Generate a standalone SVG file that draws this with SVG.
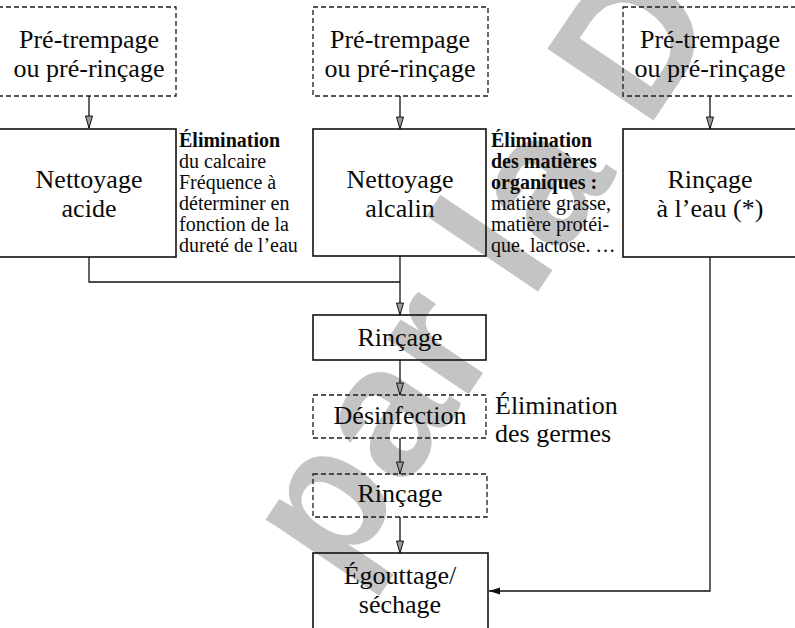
<svg xmlns="http://www.w3.org/2000/svg" width="795" height="628" viewBox="0 0 795 628">
  <defs>
    <style>
      .wm{font-weight:bold;font-size:186px;fill:#c4c4c4}
      .box{fill:none;stroke:#111;stroke-width:1.6}
      .dash{fill:none;stroke:#1c1c1c;stroke-width:1.3;stroke-dasharray:5 3}
      .lbl{font-size:26px;fill:#0a0a0a;text-anchor:middle}
      .note{font-size:20px;fill:#0a0a0a}
      .b{font-weight:bold}
      .wire{fill:none;stroke:#111;stroke-width:1.3}
    </style>
    <marker id="open" markerUnits="userSpaceOnUse" markerWidth="14" markerHeight="10" refX="12" refY="4" orient="auto" viewBox="-1 -1 14 10">
      <path d="M0,0.5 L12,4 L0,7.5 Z" fill="#9a9a9a" stroke="#111" stroke-width="1"/>
    </marker>
    <marker id="solid" markerUnits="userSpaceOnUse" markerWidth="13" markerHeight="9" refX="11" refY="3.5" orient="auto" viewBox="-1 -1 13 9">
      <path d="M0,0 L11,3.5 L0,7 Z" fill="#111"/>
    </marker>
  </defs>
  <rect width="795" height="628" fill="#ffffff"/>

  <!-- background watermark -->
  <text class="wm" font-family="'Liberation Sans', Arial, sans-serif" transform="translate(340,585) rotate(-56)">par la D</text>

  <!-- connectors -->
  <g id="connectors">
    <path class="wire" d="M89,96 V128" marker-end="url(#open)"/>
    <path class="wire" d="M400,96 V129" marker-end="url(#open)"/>
    <path class="wire" d="M710,96 V129" marker-end="url(#open)"/>
    <path class="wire" d="M89,257 V282 H400"/>
    <path class="wire" d="M400,256 V315" marker-end="url(#open)"/>
    <path class="wire" d="M400,360 V395" marker-end="url(#open)"/>
    <path class="wire" d="M400,438 V474" marker-end="url(#open)"/>
    <path class="wire" d="M400,517 V553" marker-end="url(#open)"/>
    <path class="wire" d="M710,257 V591 H489" marker-end="url(#solid)"/>
  </g>

  <g font-family="'Liberation Serif', 'Times New Roman', 'DejaVu Serif', serif">
    <!-- column 1 -->
    <g id="pre1">
      <rect class="dash" x="-2" y="7" width="178" height="89"/>
      <text class="lbl" x="89" y="48">Pré-trempage</text>
      <text class="lbl" x="89" y="77">ou pré-rinçage</text>
    </g>
    <g id="acide">
      <rect class="box" x="-2" y="129" width="178" height="128"/>
      <text class="lbl" x="89" y="188">Nettoyage</text>
      <text class="lbl" x="89" y="217">acide</text>
    </g>
    <g id="note-acide">
      <text class="note b" x="179" y="147">Élimination</text>
      <text class="note" x="179" y="168">du calcaire</text>
      <text class="note" x="179" y="189">Fréquence à</text>
      <text class="note" x="179" y="210">déterminer en</text>
      <text class="note" x="179" y="231">fonction de la</text>
      <text class="note" x="179" y="252">dureté de l’eau</text>
    </g>

    <!-- column 2 -->
    <g id="pre2">
      <rect class="dash" x="313" y="7" width="175" height="89"/>
      <text class="lbl" x="400" y="48">Pré-trempage</text>
      <text class="lbl" x="400" y="77">ou pré-rinçage</text>
    </g>
    <g id="alcalin">
      <rect class="box" x="313" y="129" width="173" height="127"/>
      <text class="lbl" x="400" y="188">Nettoyage</text>
      <text class="lbl" x="400" y="217">alcalin</text>
    </g>
    <g id="note-alcalin">
      <text class="note b" x="491" y="147">Élimination</text>
      <text class="note b" x="491" y="168">des matières</text>
      <text class="note b" x="491" y="189">organiques :</text>
      <text class="note" x="491" y="210">matière grasse,</text>
      <text class="note" x="491" y="231">matière protéi-</text>
      <text class="note" x="491" y="252">que. lactose. …</text>
    </g>

    <!-- column 3 -->
    <g id="pre3">
      <rect class="dash" x="623" y="7" width="180" height="89"/>
      <text class="lbl" x="710" y="48">Pré-trempage</text>
      <text class="lbl" x="710" y="77">ou pré-rinçage</text>
    </g>
    <g id="rincage-eau">
      <rect class="box" x="623" y="129" width="180" height="128"/>
      <text class="lbl" x="710" y="188">Rinçage</text>
      <text class="lbl" x="710" y="217">à l’eau (*)</text>
    </g>

    <!-- common chain -->
    <g id="rincage1">
      <rect class="box" x="313" y="315" width="173" height="45"/>
      <text class="lbl" x="400" y="346">Rinçage</text>
    </g>
    <g id="desinfection">
      <rect class="dash" x="313" y="395" width="173" height="43"/>
      <text class="lbl" x="400" y="424">Désinfection</text>
    </g>
    <g id="note-desinfection">
      <text class="lbl" x="495" y="414" style="text-anchor:start">Élimination</text>
      <text class="lbl" x="495" y="442" style="text-anchor:start">des germes</text>
    </g>
    <g id="rincage2">
      <rect class="dash" x="313" y="474" width="174" height="43"/>
      <text class="lbl" x="400" y="502">Rinçage</text>
    </g>
    <g id="egouttage">
      <rect class="box" x="313" y="553" width="175" height="90"/>
      <text class="lbl" x="400" y="584">Égouttage/</text>
      <text class="lbl" x="400" y="613">séchage</text>
    </g>
  </g>
</svg>
